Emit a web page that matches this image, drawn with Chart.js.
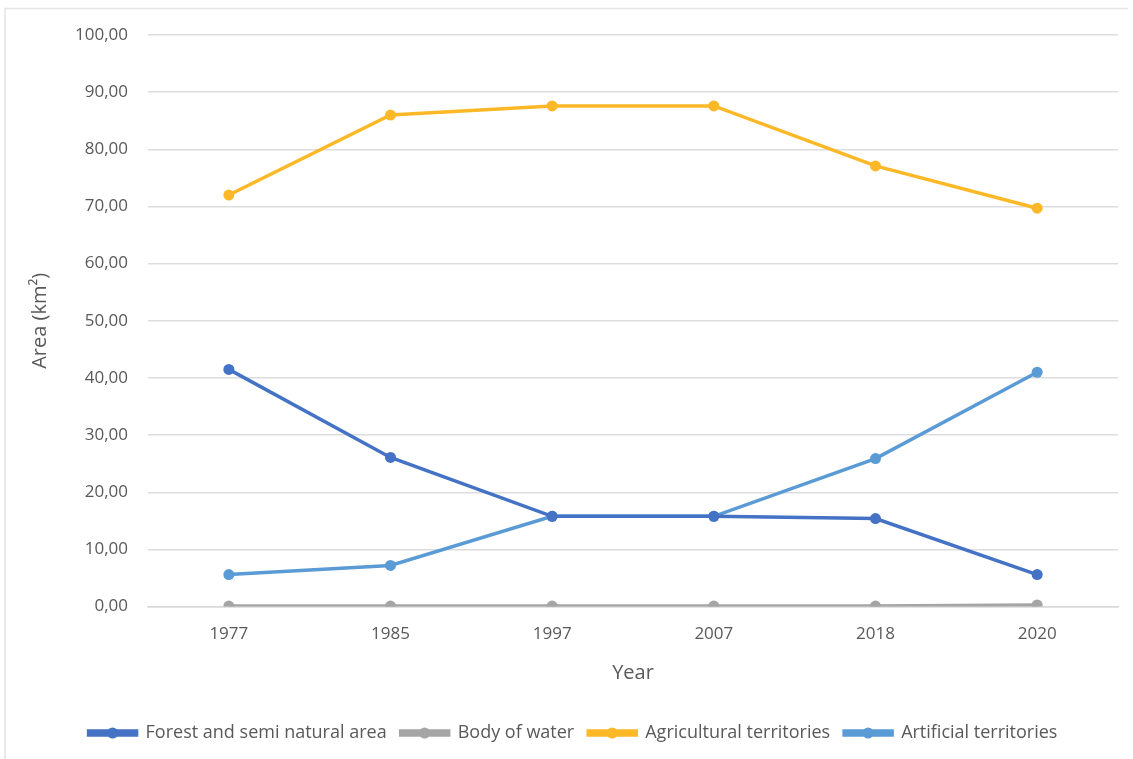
<!DOCTYPE html>
<html>
<head>
<meta charset="utf-8">
<script src="https://cdn.jsdelivr.net/npm/chart.js@4/dist/chart.umd.min.js"></script>
<style>
  html, body { margin: 0; padding: 0; background: #fff; }
  #wrap { width: 1133px; height: 759px; position: relative; }
</style>
</head>
<body>
<div id="wrap"><canvas id="c" width="1133" height="759"></canvas></div>
<script>
// Land-cover areas by survey year (km²)
const years = ['1977', '1985', '1997', '2007', '2018', '2020'];
const forest = [41.5, 26.1, 15.8, 15.8, 15.4, 5.6];
const water = [0.1, 0.1, 0.1, 0.1, 0.1, 0.3];
const agricultural = [72.0, 86.0, 87.6, 87.6, 77.1, 69.7];
const artificial = [5.6, 7.2, 15.8, 15.8, 25.9, 41.0];

const seriesNames = ['Forest and semi natural area', 'Body of water', 'Agricultural territories', 'Artificial territories'];
const seriesColors = ['#4472C4', '#A5A5A5', '#FDB827', '#5B9BD5'];
const seriesValues = [forest, water, agricultural, artificial];

const FONT = "'Open Sans', 'Liberation Sans', sans-serif";
const TEXT = '#595959';

// Small circle markers on top of the legend line swatches
const legendMarkers = {
  id: 'legendMarkers',
  afterDraw(chart) {
    const lg = chart.legend;
    if (!lg || !lg.legendHitBoxes) return;
    const ctx = chart.ctx;
    const bw = lg.options.labels.boxWidth;
    lg.legendHitBoxes.forEach((hb, i) => {
      ctx.save();
      ctx.fillStyle = seriesColors[i];
      ctx.beginPath();
      ctx.arc(hb.left + bw / 2, hb.top + hb.height / 2, 5.5, 0, Math.PI * 2);
      ctx.fill();
      ctx.restore();
    });
  }
};

// Thin outer frame
const frame = {
  id: 'frame',
  beforeDraw(chart) {
    const ctx = chart.ctx;
    ctx.save();
    ctx.strokeStyle = '#E4E4E4';
    ctx.lineWidth = 1.5;
    ctx.beginPath();
    ctx.moveTo(5, 759);
    ctx.lineTo(5, 8.5);
    ctx.lineTo(1128, 8.5);
    ctx.stroke();
    ctx.restore();
  }
};

new Chart(document.getElementById('c'), {
  type: 'line',
  data: {
    labels: years,
    datasets: seriesNames.map((name, i) => ({
      label: name,
      data: seriesValues[i],
      borderColor: seriesColors[i],
      backgroundColor: seriesColors[i],
      borderWidth: 3.5,
      pointRadius: 5.5,
      pointBackgroundColor: seriesColors[i],
      pointBorderWidth: 0,
      tension: 0
    }))
  },
  options: {
    responsive: false,
    animation: false,
    devicePixelRatio: 1,
    layout: { padding: { left: 28, right: 15, top: 35, bottom: 7 } },
    plugins: {
      tooltip: { enabled: false },
      legend: {
        position: 'bottom',
        labels: {
          boxWidth: 48,
          boxHeight: 4,
          padding: 14,
          color: TEXT,
          font: { family: FONT, size: 18 }
        }
      }
    },
    scales: {
      x: {
        offset: true,
        grid: { display: false, drawTicks: false },
        border: { color: '#D9D9D9', width: 1.5 },
        ticks: { color: TEXT, font: { family: FONT, size: 17 }, padding: 17 },
        title: { display: true, text: 'Year', color: TEXT, font: { family: FONT, size: 20 }, padding: { top: 0, bottom: 25 } }
      },
      y: {
        min: 0,
        max: 100,
        afterFit(scale) { scale.width = 120; },
        grid: { color: '#DDDDDD', lineWidth: 1.5, drawTicks: false },
        border: { display: false },
        ticks: {
          stepSize: 10,
          padding: 20,
          color: TEXT,
          font: { family: FONT, size: 17 },
          callback: v => v.toFixed(2).replace('.', ',')
        },
        title: { display: true, text: 'Area (km²)', color: TEXT, font: { family: FONT, size: 20 }, padding: { top: 0, bottom: 0 } }
      }
    }
  },
  plugins: [legendMarkers, frame]
});
</script>
</body>
</html>
